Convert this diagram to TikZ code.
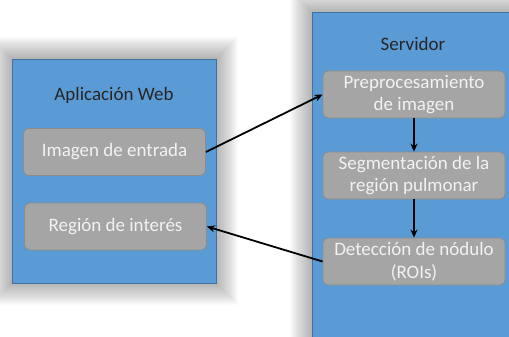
\documentclass[tikz,border=0pt]{standalone}
\usepackage{fontspec}
\setmainfont{Carlito}
\usetikzlibrary{arrows.meta,positioning}
\definecolor{panelblue}{HTML}{5B9BD5}
\definecolor{paneledge}{HTML}{41719C}
\definecolor{boxgray}{HTML}{A5A5A5}
\definecolor{boxedge}{HTML}{8C8C8C}
\definecolor{boxtext}{HTML}{F2F2F2}

\begin{document}
\begin{tikzpicture}[x=1pt,y=-1pt,>=Latex,
 panel/.style={draw=paneledge,fill=panelblue,line width=0.8pt},
 stage/.style={rounded corners=5pt,draw=boxedge,fill=boxgray,line width=0.8pt,minimum width=182pt,minimum height=47pt,align=center,inner sep=1pt,text=boxtext,font=\fontsize{19}{22.5}\selectfont},
 title/.style={font=\fontsize{19}{22.5}\selectfont,text=black!85},
 a/.style={-{Stealth[length=8pt,width=7pt]},line width=1.8pt,black}]
\useasboundingbox (0,0) rectangle (509,337);
\clip (0,0) rectangle (509,337);

% soft halo round the two panels
\foreach \i in {1,...,22}{
  \fill[black,opacity=0.016] (12-\i,59-\i) rectangle (216+\i,283+\i);
  \fill[black,opacity=0.016] (312-\i,12-\i) rectangle (540,360);
}

\draw[panel] (12,59) rectangle (216,283);
\draw[panel] (312,12) rectangle (540,360);

\node[title] (webt) at (114,95) {Aplicación Web};
\node[title] (srvt) at (413,44) {Servidor};

\node[stage] (ent) at (114.5,152) {Imagen de entrada};
\node[stage] (roi) at (115.5,226.5) {Región de interés};

\node[stage] (pre) at (414,94.5) {Preprocesamiento\\de imagen};
\node[stage] (seg) at (414,175.5) {Segmentación de la\\región pulmonar};
\node[stage] (det) at (414,261.5) {Detección de nódulo\\(ROIs)};

\draw[a] (ent.east)--(pre.west);
\draw[a] (pre)--(seg);
\draw[a] (seg)--(det);
\draw[a] (det.west)--(roi.east);
\end{tikzpicture}
\end{document}
